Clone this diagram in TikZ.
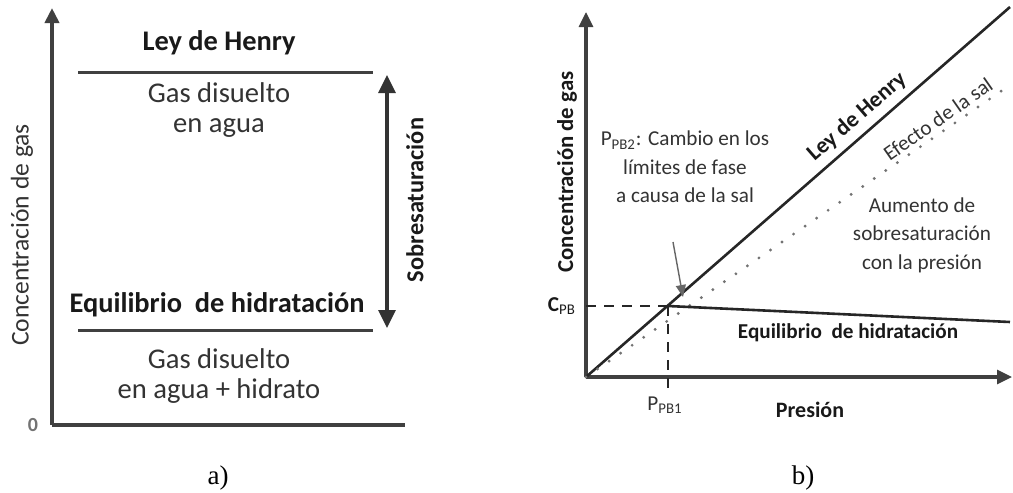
\documentclass[tikz,border=0pt]{standalone}
\usepackage{fontspec}
\setmainfont{Carlito}
\newfontfamily\capfont{Liberation Serif}
\usetikzlibrary{positioning, arrows.meta}

\begin{document}
\begin{tikzpicture}[
    x=0.5pt, y=-0.5pt,
    axis/.style={line width=2pt, black!75},
    bound/.style={line width=1.5pt, black!75},
    tip/.style={-{Triangle[length=7.5pt, width=7pt]}},
    dbl/.style={{Triangle[length=9pt, width=8.5pt]}-{Triangle[length=9pt, width=8.5pt]}, line width=1.6pt, black!80},
    txt/.style={font=\fontsize{14.3}{15}\selectfont, black!80, align=center},
    ttl/.style={font=\fontsize{14.2}{15}\selectfont\bfseries, black!90},
    txtb/.style={font=\fontsize{10.6}{14.2}\selectfont, black!80, align=center},
    ttlb/.style={font=\fontsize{10.6}{12}\selectfont\bfseries, black!90},
    dashl/.style={line width=1.3pt, black!85, dash pattern=on 5pt off 4pt},
    dotl/.style={line width=1.6pt, black!55, line cap=round, dash pattern=on 0pt off 7pt},
    sublbl/.style={font=\fontsize{13.5}{15}\capfont},
  ]
    \useasboundingbox (0,0) rectangle (1013,493);

    % Panel a: axes
    \coordinate (aO) at (52,425);
    \coordinate (aY) at (52,8);
    \coordinate (aX) at (405,425);
    \draw[axis, tip] (aO) -- (aY);
    \draw[axis] (aO) -- (aX);
    \node[font=\fontsize{10}{12}\selectfont\bfseries, black!55] (zero) at (33,425) {0};
    \node[txt, rotate=90, font=\fontsize{12.8}{15}\selectfont] (yleg) at (22,235) {Concentración de gas};

    % Panel a: boundaries
    \coordinate (h1) at (78,72);
    \coordinate (h2) at (373,72);
    \coordinate (e1) at (78,330);
    \coordinate (e2) at (373,330);
    \draw[bound] (h1) -- (h2);
    \draw[bound] (e1) -- (e2);
    \node[ttl] (henry) at (219,43) {Ley de Henry};
    \node[txt] (upper) at (219,110) {Gas disuelto\\en agua};
    \node[ttl] (equil) at (217,305) {Equilibrio\ \ de hidratación};
    \node[txt] (lower) at (219,376) {Gas disuelto\\en agua + hidrato};

    % Supersaturation
    \coordinate (s1) at (387,75);
    \coordinate (s2) at (387,328);
    \draw[dbl] (s1) -- (s2);
    \node[ttl, rotate=90, font=\fontsize{12.2}{14}\selectfont\bfseries] (sobre) at (415,200) {Sobresaturación};

    \node[sublbl] (capa) at (218,478) {a)};

    % Panel b: axes
    \coordinate (bO) at (586,377);
    \coordinate (bY) at (586,12);
    \coordinate (bX) at (1012,377);
    \draw[axis, line width=1.6pt, tip] (bO) -- (bY);
    \draw[axis, line width=1.6pt, tip] (bO) -- (bX);
    \node[ttlb, rotate=90, font=\fontsize{11.4}{12}\selectfont\bfseries] (yleg2) at (567,172) {Concentración de gas};
    \node[ttlb, font=\fontsize{11}{12}\selectfont\bfseries] (pres) at (810,410) {Presión};

    % Henry line, salt effect, equilibrium
    \coordinate (hb) at (1010,7);
    \coordinate (sb) at (1010,85);
    \coordinate (cp) at (668,306);
    \coordinate (eb) at (1010,322);
    \draw[line width=1.3pt, black!85] (bO) -- (hb);
    \draw[dotl] (bO) -- (sb);
    \draw[line width=1.3pt, black!85] (cp) -- (eb);

    % Dashed guides
    \coordinate (cy) at (586,306);
    \coordinate (px) at (668,392);
    \draw[dashl] (cy) -- (cp);
    \draw[dashl] (cp) -- (px);
    \node[ttlb, anchor=east] (cpb) at (583,306) {C$_{\mathrm{PB}}$};
    \node[txtb] (ppb1) at (665,405) {P$_{\mathrm{PB1}}$};

    % Labels
    \node[ttlb, rotate=41, font=\fontsize{11.4}{12}\selectfont\bfseries] (henryb) at (857,117) {Ley de Henry};
    \node[txtb, rotate=35] (salt) at (938,119) {Efecto de la sal};
    \node[txtb] (aument) at (922,235) {Aumento de\\sobresaturación\\con la presión};
    \node[ttlb] (equilb) at (848,333) {Equilibrio\ \ de hidratación};
    \node[txtb] (ppb2) at (685,167) {P$_{\mathrm{PB2}}$: Cambio en los\\límites de fase\\a causa de la sal};
    \coordinate (pa) at (673,242);
    \coordinate (pb) at (683,297);
    \draw[line width=0.7pt, black!60, -{Triangle[length=6pt, width=5pt]}] (pa) -- (pb);

    \node[sublbl] (capb) at (803,478) {b)};
  \end{tikzpicture}
\end{document}
